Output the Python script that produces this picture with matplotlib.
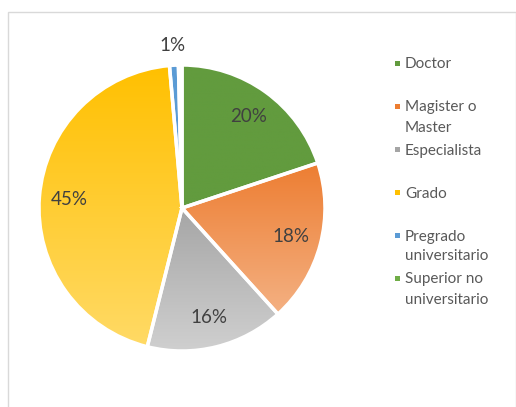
import numpy as np
import matplotlib
matplotlib.use("Agg")
import matplotlib.pyplot as plt
from matplotlib.colors import LinearSegmentedColormap
from matplotlib.patches import Rectangle

# datos del grafico
categorias = ["Doctor", "Magister o\nMaster", "Especialista", "Grado",
              "Pregrado\nuniversitario", "Superior no\nuniversitario"]
valores = [19.9, 18.4, 15.6, 44.7, 1.0, 0.4]
# colores (arriba, abajo) para el degradado de cada porcion
colores_top = ["#629B3E", "#ED7D31", "#A5A5A5", "#FFC000", "#5B9BD5", "#70AD47"]
colores_bot = ["#629B3E", "#F4B183", "#D0D0D0", "#FFDA66", "#5B9BD5", "#70AD47"]

W, H = 516, 407
fig = plt.figure(figsize=(W / 100, H / 100), dpi=100)
ax = fig.add_axes([0, 0, 1, 1])

cx, cy, r = 182, 199, 143

wedges, _ = ax.pie(valores, startangle=90, counterclock=False,
                   center=(cx, cy), radius=r,
                   wedgeprops=dict(edgecolor="white", linewidth=2.5, facecolor="none"))

# degradado vertical dentro de cada porcion
for w, c1, c2 in zip(wedges, colores_top, colores_bot):
    verts = w.get_path().vertices
    x0, x1 = verts[:, 0].min(), verts[:, 0].max()
    y0, y1 = verts[:, 1].min(), verts[:, 1].max()
    cmap = LinearSegmentedColormap.from_list("g", [c2, c1])
    grad = np.linspace(0, 1, 256).reshape(-1, 1)
    im = ax.imshow(grad, cmap=cmap, origin="lower", aspect="auto",
                   extent=(x0 - 1, x1 + 1, y0 - 1, y1 + 1), zorder=0.5)
    im.set_clip_path(w)

# etiquetas de porcentaje
for w, v in zip(wedges, valores):
    if v < 0.95:
        continue
    ang = np.deg2rad((w.theta1 + w.theta2) / 2)
    d = 0.79 if v > 5 else 1.14
    ax.text(cx + d * r * np.cos(ang), cy + d * r * np.sin(ang), "%.0f%%" % v,
            ha="center", va="center", fontsize=13.5, color="#404040", family="Lato")

# leyenda manual
y_ley = [63, 106, 149, 192, 235, 278]
for yy, cat, col in zip(y_ley, categorias, colores_top):
    ax.add_patch(Rectangle((394.5, H - yy - 2.5), 5, 5, color=col, lw=0))
    ax.text(405, H - yy, cat.split("\n")[0], ha="left", va="center_baseline",
            fontsize=11, color="#595959", family="Lato")
    if "\n" in cat:
        ax.text(405, H - yy - 20, cat.split("\n")[1], ha="left", va="center_baseline",
                fontsize=11, color="#595959", family="Lato")

# marco del grafico
ax.add_patch(Rectangle((8, -5), 507.5, H - 12 + 5, fill=False,
                       edgecolor="#D9D9D9", lw=1))

ax.set_xlim(0, W)
ax.set_ylim(0, H)
ax.set_aspect("auto")
ax.axis("off")

fig.savefig("out.png", dpi=100)
